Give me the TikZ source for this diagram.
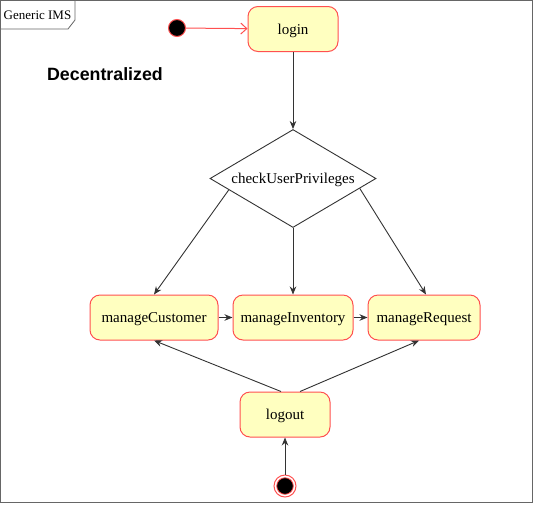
\documentclass[tikz,border=0pt]{standalone}
\usepackage{fontspec}
\setmainfont{Liberation Serif}
\newfontfamily\headfont{Liberation Sans}
\usetikzlibrary{shapes.geometric,arrows.meta,calc}
\definecolor{boxfill}{HTML}{FFFFC0}
\definecolor{boxline}{HTML}{FF5050}
\definecolor{arr}{HTML}{333333}
\definecolor{framec}{HTML}{666666}
\tikzset{
  act/.style={draw=boxline, fill=boxfill, rounded corners=10pt, line width=1pt,
    minimum height=45pt, inner sep=0pt, text depth=0pt, font=\fontsize{15}{18}\selectfont},
  dec/.style={draw=arr, fill=white, diamond, shape aspect=1.694, inner sep=0pt, line width=0.9pt,
    minimum width=166pt, minimum height=98pt, text depth=0pt, font=\fontsize{15}{18}\selectfont},
  conn/.style={draw=arr, line width=0.9pt, -{Stealth[length=8pt,width=6.5pt]}},
  redconn/.style={draw=boxline, line width=1pt, -{Straight Barb[length=6pt,width=11pt]}},
}
\begin{document}
\begin{tikzpicture}[x=1pt,y=-1pt]
\useasboundingbox (0,0) rectangle (534,504);
% frame
\draw[framec, line width=1pt] (0.5,0.5) rectangle (532.5,502.5);
\draw[framec, line width=0.8pt, fill=white] (0.5,0.5) -- (75,0.5) -- (75,20) -- (68,29) -- (0.5,29) -- cycle;
\node[font=\fontsize{13}{15}\selectfont, inner sep=0pt] (frametitle) at (37.5,15.5) {Generic IMS};
\node[font=\headfont\bfseries\fontsize{17.8}{20}\selectfont, inner sep=0pt] (title) at (105,74) {Decentralized};
% nodes
\node[circle, fill=black, draw=boxline, line width=1pt, minimum size=17pt, inner sep=0pt] (init) at (177,28) {};
\node[act, minimum width=90pt] (login) at (293,29) {login};
\node[dec] (chk) at (293,178.5) {checkUserPrivileges};
\node[act, minimum width=128pt] (mc) at (154,317.5) {manageCustomer};
\node[act, minimum width=120pt] (mi) at (293,317.5) {manageInventory};
\node[act, minimum width=112pt] (mr) at (424,317.5) {manageRequest};
\node[act, minimum width=90pt] (lo) at (285,414.5) {logout};
\node[circle, draw=boxline, fill=white, line width=1pt, minimum size=22pt, inner sep=0pt] (fin) at (285,486) {};
\fill[black, draw=boxline, line width=0.8pt] (fin.center) circle (8.3pt);
% connectors
\draw[redconn] (init) -- (login);
\draw[conn] (login) -- (chk.north);
\draw[conn] ($(chk.west)!0.23!(chk.south)$) -- (mc.north);
\draw[conn] (chk.south) -- (mi.north);
\draw[conn] ($(chk.east)!0.2!(chk.south)$) -- ([xshift=2pt]mr.north);
\draw[conn] (mc) -- (mi);
\draw[conn] (mi) -- (mr);
\draw[conn] ([xshift=-4pt]lo.north) -- (mc.south);
\draw[conn] ([xshift=15pt]lo.north) -- ([xshift=-5pt]mr.south);
\draw[conn] (fin) -- (lo);
\end{tikzpicture}
\end{document}
